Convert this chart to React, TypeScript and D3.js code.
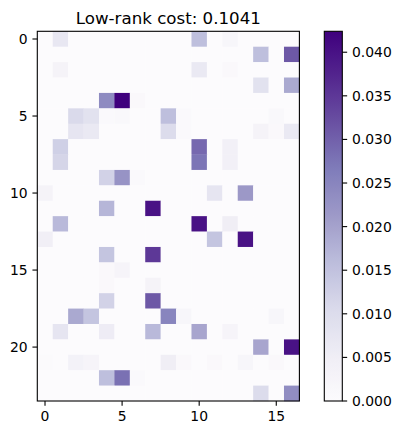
import React from "react";
import * as d3 from "d3";

const title = "Low-rank cost: 0.1041";
const nRows = 24;
const nCols = 17;
const vmax = 0.0424;
const xTicks = [0, 5, 10, 15];
const yTicks = [0, 5, 10, 15, 20];
const cbTicks = [0, 0.005, 0.01, 0.015, 0.02, 0.025, 0.03, 0.035, 0.04];
const purples = ["#fcfbfd", "#efedf5", "#dadaeb", "#bcbddc", "#9e9ac8", "#807dba", "#6a51a3", "#54278f", "#3f007d"];

// sparse non-zero entries: [row, col, value]
const cells: [number, number, number][] = [
  [0, 1, 0.007], [0, 10, 0.0155], [0, 12, 0.002],
  [1, 14, 0.0155], [1, 16, 0.031],
  [2, 1, 0.003], [2, 10, 0.0065], [2, 12, 0.001],
  [3, 14, 0.0085], [3, 16, 0.019],
  [4, 4, 0.024], [4, 5, 0.0424], [4, 6, 0.001],
  [5, 2, 0.0105], [5, 3, 0.0085], [5, 4, 0.0007], [5, 5, 0.0012], [5, 8, 0.0155], [5, 9, 0.0007], [5, 15, 0.0012],
  [6, 2, 0.0075], [6, 3, 0.0065], [6, 8, 0.01], [6, 9, 0.0007], [6, 14, 0.003], [6, 15, 0.001], [6, 16, 0.0065],
  [7, 1, 0.0125], [7, 10, 0.029], [7, 12, 0.004],
  [8, 1, 0.0115], [8, 10, 0.0275], [8, 12, 0.004],
  [9, 4, 0.012], [9, 5, 0.0225], [9, 6, 0.0007],
  [10, 0, 0.003], [10, 11, 0.0075], [10, 13, 0.0215],
  [11, 4, 0.017], [11, 7, 0.04],
  [12, 1, 0.0165], [12, 10, 0.04], [12, 12, 0.005],
  [13, 0, 0.0045], [13, 11, 0.0145], [13, 13, 0.04],
  [14, 4, 0.0145], [14, 7, 0.035],
  [15, 4, 0.001], [15, 5, 0.0025],
  [16, 4, 0.001], [16, 7, 0.003],
  [17, 4, 0.012], [17, 7, 0.031],
  [18, 2, 0.019], [18, 3, 0.0145], [18, 8, 0.025], [18, 9, 0.002], [18, 15, 0.002],
  [19, 1, 0.0075], [19, 4, 0.0055], [19, 7, 0.0165], [19, 10, 0.0195], [19, 12, 0.0025],
  [20, 14, 0.0195], [20, 16, 0.04],
  [21, 0, 0.0004], [21, 2, 0.0035], [21, 3, 0.0025], [21, 8, 0.005], [21, 9, 0.001], [21, 11, 0.001], [21, 13, 0.002], [21, 15, 0.001],
  [22, 4, 0.0155], [22, 5, 0.028], [22, 6, 0.0008],
  [23, 14, 0.01], [23, 16, 0.0235],
];

export default function App() {
  const W = 401, H = 435;
  const left = 37.3, right = 299.4, top = 31.3, bottom = 401;
  const x = d3.scaleLinear().domain([-0.5, nCols - 0.5]).range([left, right]);
  const y = d3.scaleLinear().domain([-0.5, nRows - 0.5]).range([top, bottom]);
  const color = d3
    .scaleLinear<string>()
    .domain(purples.map((_, i) => (i / (purples.length - 1)) * vmax))
    .range(purples)
    .interpolate(d3.interpolateRgb)
    .clamp(true);

  const matrix: number[][] = d3.range(nRows).map(() => d3.range(nCols).map(() => 0));
  cells.forEach(([r, c, v]) => (matrix[r][c] = v));

  const cbL = 324.3, cbR = 342.3;
  const cy = d3.scaleLinear().domain([0, vmax]).range([bottom, top]);
  const tickLen = 4.86;
  const fontFamily = "DejaVu Sans";
  const fs = 13.9;
  const stops = d3.range(0, 1.0001, 0.02);

  return (
    <svg width={W} height={H} style={{ position: "absolute", left: 0, top: 0 }} fontFamily={fontFamily}>
      <rect x={0} y={0} width={W} height={H} fill="#fff" />
      <defs>
        <linearGradient id="cbgrad" x1="0" y1="1" x2="0" y2="0">
          {stops.map((t) => (
            <stop key={t} offset={t} stopColor={color(t * vmax)} />
          ))}
        </linearGradient>
      </defs>
      <text x={(left + right) / 2} y={23.5} textAnchor="middle" fontSize={16.67} fill="#000">
        {title}
      </text>
      <g>
        {matrix.map((row, r) =>
          row.map((v, c) => (
            <rect
              key={`${r}-${c}`}
              x={x(c - 0.5)}
              y={y(r - 0.5)}
              width={x(c + 0.5) - x(c - 0.5) + 0.3}
              height={y(r + 0.5) - y(r - 0.5) + 0.3}
              fill={color(v)}
            />
          ))
        )}
      </g>
      <rect x={left} y={top} width={right - left} height={bottom - top} fill="none" stroke="#000" strokeWidth={1.1} />
      {xTicks.map((t) => (
        <g key={`x${t}`}>
          <line x1={x(t)} x2={x(t)} y1={bottom} y2={bottom + tickLen} stroke="#000" strokeWidth={1.1} />
          <text x={x(t)} y={bottom + 2 * tickLen} dy="0.76em" textAnchor="middle" fontSize={fs} fill="#000">
            {t}
          </text>
        </g>
      ))}
      {yTicks.map((t) => (
        <g key={`y${t}`}>
          <line x1={left - tickLen} x2={left} y1={y(t)} y2={y(t)} stroke="#000" strokeWidth={1.1} />
          <text x={left - 2 * tickLen} y={y(t)} dy="0.36em" textAnchor="end" fontSize={fs} fill="#000">
            {t}
          </text>
        </g>
      ))}
      <rect x={cbL} y={top} width={cbR - cbL} height={bottom - top} fill="url(#cbgrad)" />
      <rect x={cbL} y={top} width={cbR - cbL} height={bottom - top} fill="none" stroke="#000" strokeWidth={1.1} />
      {cbTicks.map((t) => (
        <g key={`c${t}`}>
          <line x1={cbR} x2={cbR + tickLen} y1={cy(t)} y2={cy(t)} stroke="#000" strokeWidth={1.1} />
          <text x={cbR + 2 * tickLen} y={cy(t)} dy="0.36em" textAnchor="start" fontSize={fs} fill="#000">
            {d3.format(".3f")(t)}
          </text>
        </g>
      ))}
    </svg>
  );
}
